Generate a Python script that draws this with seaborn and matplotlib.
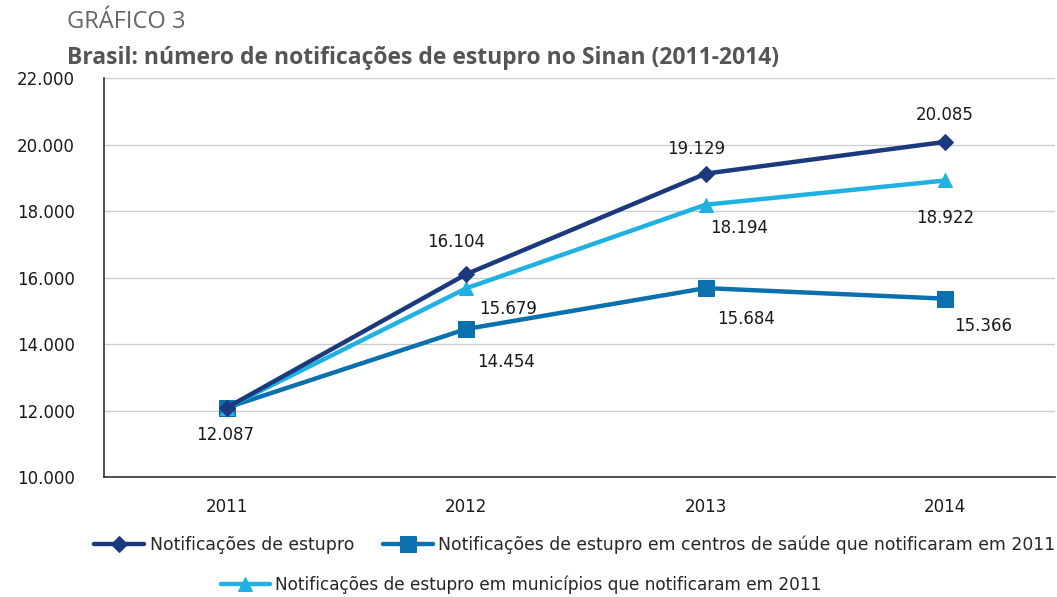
import numpy as np
import pandas as pd
import matplotlib.pyplot as plt
import seaborn as sb
from matplotlib.ticker import FuncFormatter

anos = ['2011', '2012', '2013', '2014']
total = [12087, 16104, 19129, 20085]
centros = [12087, 14454, 15684, 15366]
municipios = [12087, 15679, 18194, 18922]

nomes = ['Notificações de estupro',
         'Notificações de estupro em centros de saúde que notificaram em 2011',
         'Notificações de estupro em municípios que notificaram em 2011']
cores = ['#1b3a7e', '#0a70ae', '#1eb1e1']
marcadores = ['D', 's', '^']

df = pd.DataFrame({
    'ano': anos * 3,
    'valor': total + centros + municipios,
    'serie': [nomes[0]] * 4 + [nomes[1]] * 4 + [nomes[2]] * 4,
})
df['x'] = df.groupby('serie').cumcount()

sb.set_style('white')
plt.rcParams['font.family'] = ['DejaVu Sans']

fig = plt.figure(figsize=(10.57, 5.97), dpi=100)
ax = fig.add_axes([0.0984, 0.201, 0.9, 0.668])

# desenha em ordem: centros, municipios, total (total por cima)
ordem = [1, 2, 0]
tamanhos = {0: 8, 1: 11, 2: 10}
for i in ordem:
    d = df[df.serie == nomes[i]]
    sb.lineplot(data=d, x='x', y='valor', ax=ax, color=cores[i], linewidth=3.2,
                marker=marcadores[i], markersize=tamanhos[i], markeredgecolor=cores[i],
                label=nomes[i], legend=False)

fmt = lambda v: f'{int(v):,}'.replace(',', '.')

# rotulos (deslocamento em pontos)
desl = {
    0: [(-1, -20), (-7, 23), (-7, 18), (0, 19)],
    1: [None, (29, -24), (29, -22), (27, -20)],
    2: [None, (30, -15), (24, -17), (0, -27)],
}
series = [total, centros, municipios]
for i, offs in desl.items():
    for j, o in enumerate(offs):
        if o is None:
            continue
        ax.annotate(fmt(series[i][j]), (j, series[i][j]), xytext=o,
                    textcoords='offset points', ha='center', va='center',
                    fontsize=12, color='#1a1a1a')

ax.set_xlim(-0.513, 3.46)
ax.set_ylim(10000, 22000)
ax.set_yticks(np.arange(10000, 22001, 2000))
ax.yaxis.set_major_formatter(FuncFormatter(lambda v, p: fmt(v)))
ax.set_xticks(range(4))
ax.set_xticklabels(anos)
ax.set_xlabel('')
ax.set_ylabel('')
ax.grid(axis='y', color='#cccccc', linewidth=1)
for s in ['top', 'right']:
    ax.spines[s].set_visible(False)
for s in ['left', 'bottom']:
    ax.spines[s].set_color('#333333')
    ax.spines[s].set_linewidth(1.2)
ax.tick_params(axis='y', direction='out', length=11, width=1, color='#444444',
               labelsize=12, pad=10, labelcolor='#1a1a1a')
ax.tick_params(axis='x', direction='inout', length=18, width=1, color='#666666',
               labelsize=12, pad=6, labelcolor='#1a1a1a')

fig.text(0.063, 0.953, 'GRÁFICO 3', fontsize=17, color='#666666',
         family=['Open Sans', 'DejaVu Sans'])
fig.text(0.063, 0.893, 'Brasil: número de notificações de estupro no Sinan (2011-2014)',
         fontsize=16.5, fontweight='bold', color='#555555',
         family=['Open Sans', 'DejaVu Sans'])

linhas = {l.get_label(): l for l in ax.get_lines()}
h = [linhas[n] for n in nomes]
leg1 = fig.legend(h[:2], nomes[:2], loc='center', bbox_to_anchor=(0.544, 0.087),
                  ncol=2, frameon=False, fontsize=12.4, handlelength=2.9,
                  handletextpad=0.3, columnspacing=1.7)
leg2 = fig.legend(h[2:], nomes[2:], loc='center', bbox_to_anchor=(0.493, 0.02),
                  frameon=False, fontsize=12.2, handlelength=2.9, handletextpad=0.3)

fig.savefig('out.png', dpi=100)
